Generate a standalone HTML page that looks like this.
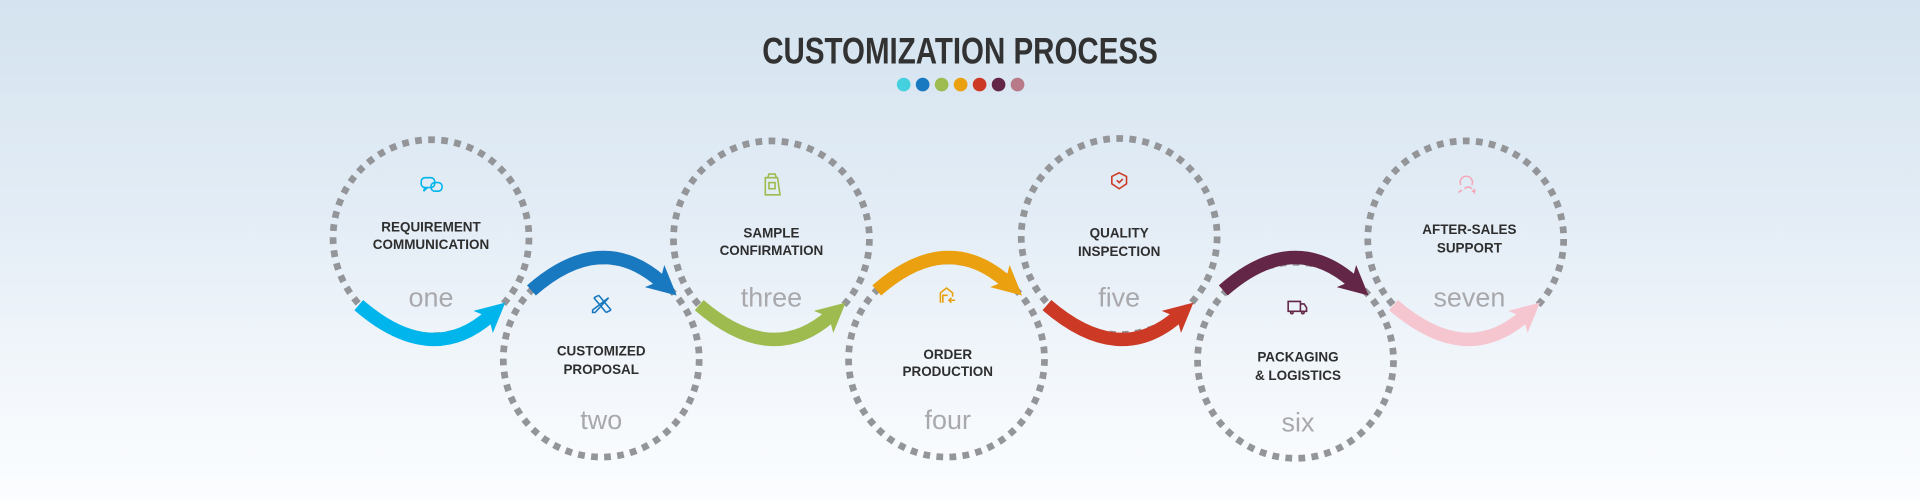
<!DOCTYPE html>
<html><head><meta charset="utf-8"><style>
html,body{margin:0;padding:0;width:1920px;height:500px;overflow:hidden}
body{background:linear-gradient(to bottom,#d4e3ef 0%,#e4edf6 45%,#f4f8fc 80%,#fbfdff 100%)}
svg{display:block}
.t{font-family:"Liberation Sans Narrow","Liberation Sans",sans-serif;font-weight:bold;fill:#323232}
.l{font-family:"Liberation Sans",sans-serif;font-weight:bold;font-size:11px;fill:#2e2e2e;text-anchor:middle}
.n{font-family:"Liberation Sans",sans-serif;font-size:22px;fill:#a9a9ad;text-anchor:middle}
.c{fill:none;stroke:#939598;stroke-width:5.5;stroke-dasharray:5.5 5.2}
.a{fill:none;stroke-width:11}
</style></head><body>
<svg width="1920" height="500" viewBox="0 0 1568 408" preserveAspectRatio="none">
<defs>
<marker id="m1" viewBox="0 0 10 10" refX="3" refY="5" markerWidth="24" markerHeight="26" markerUnits="userSpaceOnUse" orient="auto"><path d="M0,0 L10,5 L0,10 L2.5,5z" fill="#00b5ec"/></marker>
<marker id="m2" viewBox="0 0 10 10" refX="3" refY="5" markerWidth="24" markerHeight="26" markerUnits="userSpaceOnUse" orient="auto"><path d="M0,0 L10,5 L0,10 L2.5,5z" fill="#1878c0"/></marker>
<marker id="m3" viewBox="0 0 10 10" refX="3" refY="5" markerWidth="24" markerHeight="26" markerUnits="userSpaceOnUse" orient="auto"><path d="M0,0 L10,5 L0,10 L2.5,5z" fill="#9dbb4e"/></marker>
<marker id="m4" viewBox="0 0 10 10" refX="3" refY="5" markerWidth="24" markerHeight="26" markerUnits="userSpaceOnUse" orient="auto"><path d="M0,0 L10,5 L0,10 L2.5,5z" fill="#eaa00f"/></marker>
<marker id="m5" viewBox="0 0 10 10" refX="3" refY="5" markerWidth="24" markerHeight="26" markerUnits="userSpaceOnUse" orient="auto"><path d="M0,0 L10,5 L0,10 L2.5,5z" fill="#cc3a26"/></marker>
<marker id="m6" viewBox="0 0 10 10" refX="3" refY="5" markerWidth="24" markerHeight="26" markerUnits="userSpaceOnUse" orient="auto"><path d="M0,0 L10,5 L0,10 L2.5,5z" fill="#632646"/></marker>
<marker id="m7" viewBox="0 0 10 10" refX="3" refY="5" markerWidth="24" markerHeight="26" markerUnits="userSpaceOnUse" orient="auto"><path d="M0,0 L10,5 L0,10 L2.5,5z" fill="#f6c6d0"/></marker>
</defs>

<text class="t" x="784" y="52" font-size="30" text-anchor="middle" textLength="323" lengthAdjust="spacingAndGlyphs">CUSTOMIZATION PROCESS</text>
<g>
<circle cx="738" cy="69" r="5.6" fill="#45d0e0"/>
<circle cx="753.5" cy="69" r="5.6" fill="#1878c0"/>
<circle cx="769" cy="69" r="5.6" fill="#9dbb4e"/>
<circle cx="784.5" cy="69" r="5.6" fill="#eaa00f"/>
<circle cx="800" cy="69" r="5.6" fill="#cc3a26"/>
<circle cx="815.5" cy="69" r="5.6" fill="#632646"/>
<circle cx="831" cy="69" r="5.6" fill="#b87a88"/>
</g>

<circle class="c" cx="352" cy="194" r="80"/>
<circle class="c" cx="491" cy="293" r="80"/>
<circle class="c" cx="630" cy="195" r="80"/>
<circle class="c" cx="773" cy="293" r="80"/>
<circle class="c" cx="914" cy="193" r="80"/>
<circle class="c" cx="1058" cy="294" r="80"/>
<circle class="c" cx="1197" cy="195" r="80"/>

<path class="a" stroke="#00b5ec" d="M293,249 Q352,300 400,258" marker-end="url(#m1)"/>
<path class="a" stroke="#1878c0" d="M434,237 Q491,187 540,230" marker-end="url(#m2)"/>
<path class="a" stroke="#9dbb4e" d="M571,249 Q630,300 678,258" marker-end="url(#m3)"/>
<path class="a" stroke="#eaa00f" d="M716,237 Q773,187 822,230" marker-end="url(#m4)"/>
<path class="a" stroke="#cc3a26" d="M855,249 Q914,300 962,258" marker-end="url(#m5)"/>
<path class="a" stroke="#632646" d="M999,237 Q1056,187 1105,230" marker-end="url(#m6)"/>
<path class="a" stroke="#f6c6d0" d="M1138,249 Q1197,300 1245,258" marker-end="url(#m7)"/>

<g fill="none" stroke-width="1.3">
<g stroke="#00b5ec"><rect x="344" y="145" width="11" height="8" rx="3"/><path d="M347,153 l-1,3 3,-3"/><rect x="352" y="149" width="9" height="7" rx="3"/></g>
<g stroke="#1878c0"><path d="M485,243 l10,12 M489,241 l10,12 M485,243 l4,-2 M495,255 l4,-2 M497,243 l-11,12 l-2,0 l0,-2z"/></g>
<g stroke="#9dbb4e"><path d="M625,145 l10,0 l2,14 l-12,0z M627,145 l1,-3 l5,0 l1,3"/><rect x="628" y="149" width="5" height="5"/></g>
<g stroke="#eaa00f"><path d="M768,247 l0,-8 l5,-4 l5,4 l0,3 M770,247 l0,-6 l4,0 M775,245 l5,0 M777,243 l-2,2 2,2"/></g>
<g stroke="#cc3a26"><path d="M914,141 l6,3 l0,6 l-6,4 l-6,-4 l0,-6z"/><path d="M912,147 l2,2 l3,-3" /></g>
<g stroke="#632646"><path d="M1052,246 l10,0 l0,8 l-10,0z M1062,248 l3,0 l2,3 l0,3 l-5,0"/><circle cx="1055" cy="255" r="1"/><circle cx="1064" cy="255" r="1"/></g>
<g stroke="#f4a8b8"><path d="M1193,151 a5,5 0 1 1 9,0 M1196,154 a4,4 0 0 1 6,0 M1191,157 l3,-2 M1202,156 l3,0 M1204,154 l0,4"/></g>
</g>

<text class="l" x="352" y="189">REQUIREMENT</text>
<text class="l" x="352" y="203">COMMUNICATION</text>
<text class="n" x="352" y="250">one</text>

<text class="l" x="491" y="290">CUSTOMIZED</text>
<text class="l" x="491" y="305">PROPOSAL</text>
<text class="n" x="491" y="350">two</text>

<text class="l" x="630" y="194">SAMPLE</text>
<text class="l" x="630" y="208">CONFIRMATION</text>
<text class="n" x="630" y="250">three</text>

<text class="l" x="774" y="293">ORDER</text>
<text class="l" x="774" y="307">PRODUCTION</text>
<text class="n" x="774" y="350">four</text>

<text class="l" x="914" y="194">QUALITY</text>
<text class="l" x="914" y="209">INSPECTION</text>
<text class="n" x="914" y="250">five</text>

<text class="l" x="1060" y="295">PACKAGING</text>
<text class="l" x="1060" y="310">&amp; LOGISTICS</text>
<text class="n" x="1060" y="352">six</text>

<text class="l" x="1200" y="191">AFTER-SALES</text>
<text class="l" x="1200" y="206">SUPPORT</text>
<text class="n" x="1200" y="250">seven</text>
</svg>
</body></html>
